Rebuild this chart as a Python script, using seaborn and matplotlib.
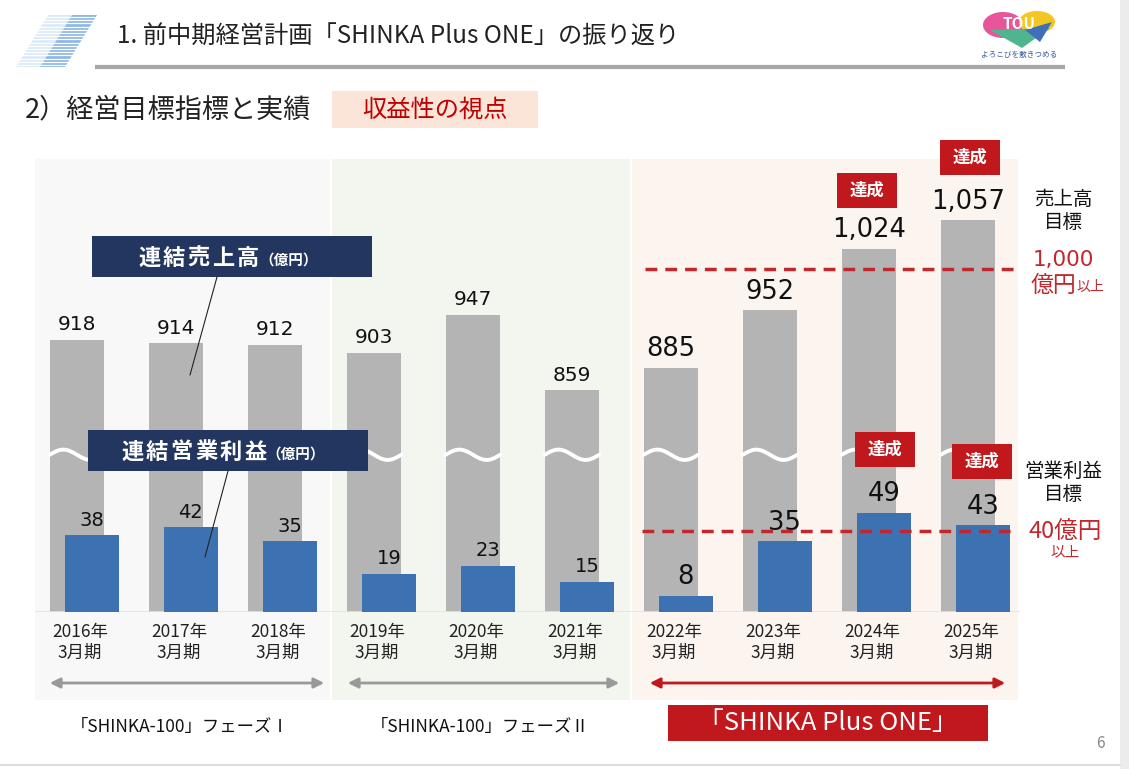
import numpy as np
import pandas as pd
import matplotlib
matplotlib.use("Agg")
import matplotlib.pyplot as plt
from matplotlib.patches import Rectangle, Polygon, Ellipse
import seaborn as sns

sns.set_theme(style="white")
plt.rcParams["font.family"] = ["Noto Sans CJK JP", "DejaVu Sans"]
NUM_FONT = ["DejaVu Sans", "Noto Sans CJK JP"]

# data
periods = ["2016年\n3月期", "2017年\n3月期", "2018年\n3月期", "2019年\n3月期", "2020年\n3月期",
           "2021年\n3月期", "2022年\n3月期", "2023年\n3月期", "2024年\n3月期", "2025年\n3月期"]
sales = [918, 914, 912, 903, 947, 859, 885, 952, 1024, 1057]
profit = [38, 42, 35, 19, 23, 15, 8, 35, 49, 43]
sales_target = 1000
profit_target = 40
phases = ["「SHINKA-100」フェーズⅠ", "「SHINKA-100」フェーズⅡ", "「SHINKA Plus ONE」"]

df = pd.DataFrame({"period": periods, "sales": sales, "profit": profit})
df["pos"] = np.arange(len(df))

GRAY = "#b4b4b4"
BLUE = "#3c72b1"
RED = "#c0282d"
NAVY = "#22365f"

W, H = 1129, 769
fig = plt.figure(figsize=(W / 100, H / 100), dpi=100)


def spaced_text(ax, x0, y, s, pitch, **kw):
    # draw characters one by one with a fixed pitch (letter spacing)
    for k, ch in enumerate(s):
        ax.text(x0 + pitch * (k + 0.5), y, ch, ha="center", va="center", **kw)


# pixel-coordinate background layer
bg = fig.add_axes([0, 0, 1, 1])
bg.set_xlim(0, W)
bg.set_ylim(H, 0)
bg.axis("off")

# phase panels
bg.add_patch(Rectangle((35, 159), 295, 541, color="#f8f8f8", lw=0))
bg.add_patch(Rectangle((332, 159), 298, 541, color="#f3f6ef", lw=0))
bg.add_patch(Rectangle((632, 159), 386, 541, color="#fbf4ef", lw=0))

# header decoration
bg.add_patch(Polygon([(48, 15), (72, 15), (40, 67), (16, 67)], color="#dcebf8", lw=0))
bg.add_patch(Polygon([(72, 15), (97, 15), (65, 67), (40, 67)], color="#8fb9e3", lw=0))
for yy in np.arange(17, 67, 3.2):
    bg.plot([0, 110], [yy, yy], color="white", lw=0.9)
bg.plot([95, 1065], [67, 67], color="#a6a6a6", lw=3, solid_capstyle="butt")
bg.text(117, 37, "1. 前中期経営計画「SHINKA Plus ONE」の振り返り", fontsize=17.5,
        va="center", ha="left", color="#222222")

# logo
bg.add_patch(Ellipse((1003, 25), 40, 26, color="#e8559a", lw=0))
bg.add_patch(Ellipse((1037, 22), 36, 22, color="#f3c623", lw=0))
bg.add_patch(Polygon([(990, 30), (1050, 28), (1022, 48)], color="#4fb58e", lw=0))
bg.add_patch(Polygon([(1025, 30), (1052, 22), (1040, 42)], color="#3f6fb8", lw=0))
bg.text(1019, 24, "TOU", fontsize=11, fontweight="bold", color="white", ha="center", va="center")
bg.text(1019, 55, "よろこびを敷きつめる", fontsize=5.5, color="#3f5f9f", ha="center", va="center")

# sub header
bg.text(25, 110, "2）経営目標指標と実績", fontsize=19.5, va="center", ha="left", color="#222222")
bg.add_patch(Rectangle((332, 91), 206, 37, color="#fbe4d8", lw=0))
bg.text(435, 110, "収益性の視点", fontsize=17.5, va="center", ha="center", color="#c00000")

# right edge / bottom
bg.add_patch(Rectangle((1120, 0), 9, H, color="#ececec", lw=0))
bg.plot([0, 1120], [765, 765], color="#dddddd", lw=1.5)
bg.text(1100, 743, "6", fontsize=11, color="#888888", ha="center", va="center")

# chart axes
left, right, bottom, top = 35, 1020, 612, 130
rect = [left / W, (H - bottom) / H, (right - left) / W, (bottom - top) / H]
ax1 = fig.add_axes(rect)
ax1.patch.set_alpha(0)
ax2 = ax1.twinx()
ax2.patch.set_alpha(0)

sns.barplot(data=df, x="pos", y="sales", native_scale=True, width=0.55, color=GRAY,
            saturation=1, linewidth=0, errorbar=None, ax=ax1)
sns.barplot(data=df.assign(pos=df["pos"] + 0.15), x="pos", y="profit", native_scale=True,
            width=0.55, color=BLUE, saturation=1, linewidth=0, errorbar=None, ax=ax2)

ax1.set_ylim(601, 1162)
ax2.set_ylim(0, 238.6)
ax1.set_xlim(-0.424, 9.525)

# value labels
lab1 = ax1.bar_label(ax1.containers[0], labels=[f"{v:,}" for v in sales], padding=4,
                     color="#111111", family=NUM_FONT)
lab2 = ax2.bar_label(ax2.containers[0], labels=[f"{v}" for v in profit], padding=4,
                     color="#111111", family=NUM_FONT)
for i, t in enumerate(lab1):
    t.set_fontsize(14.5 if i < 6 else 18.5)
for i, t in enumerate(lab2):
    t.set_fontsize(14 if i < 6 else 18.5)

# break marks on the gray bars
t = np.linspace(0, 1, 60)
for p in df["pos"]:
    ax1.plot(p - 0.275 + 0.55 * t, 784 + 6 * np.sin(2 * np.pi * t), color="white", lw=2.8, zorder=5)

# target lines
ax1.plot([5.74, 9.5], [sales_target, sales_target], color=RED, lw=2.5, dashes=(3.4, 2.3), zorder=6)
ax2.plot([5.71, 9.5], [profit_target, profit_target], color=RED, lw=2.5, dashes=(3.4, 2.3), zorder=6)

# axis cosmetics
for ax in (ax1, ax2):
    for s in ax.spines.values():
        s.set_visible(False)
    ax.set_ylabel("")
    ax.set_xlabel("")
    ax.set_yticks([])
ax1.axhline(601, color="#e2e2e2", lw=1.2, zorder=1)
ax1.set_xticks(df["pos"] + 0.03, labels=df["period"])
ax1.tick_params(axis="x", length=0, pad=8, labelsize=12.5, colors="#222222")
for lbl in ax1.get_xticklabels():
    lbl.set_linespacing(1.2)
ax2.tick_params(axis="x", length=0, labelbottom=False)
ax1.set_xlim(-0.424, 9.525)

# foreground layer (pixel coords)
fg = fig.add_axes([0, 0, 1, 1])
fg.set_xlim(0, W)
fg.set_ylim(H, 0)
fg.axis("off")
fg.patch.set_alpha(0)

# callouts
fg.add_patch(Rectangle((92, 236), 280, 41, color=NAVY, lw=0))
spaced_text(fg, 137, 258, "連結売上高", 24.6, fontsize=16, fontweight="bold", color="white")
fg.text(259, 260, "（億円）", fontsize=10.5, fontweight="bold", color="white", ha="left", va="center")
fg.plot([217, 190], [277, 375], color="#222222", lw=0.8)

fg.add_patch(Rectangle((88, 430), 280, 41, color=NAVY, lw=0))
spaced_text(fg, 120, 452, "連結営業利益", 24.6, fontsize=16, fontweight="bold", color="white")
fg.text(266, 454, "（億円）", fontsize=10.5, fontweight="bold", color="white", ha="left", va="center")
fg.plot([228, 205], [471, 557], color="#222222", lw=0.8)

# 達成 badges
for (x0, y0) in [(837, 173), (940, 140), (855, 432), (952, 444)]:
    fg.add_patch(Rectangle((x0, y0), 60, 35, color="#c0181c", lw=0))
    fg.text(x0 + 30, y0 + 17.5, "達成", fontsize=12.5, fontweight="bold", color="white",
            ha="center", va="center")

# target texts
fg.text(1063, 211, "売上高\n目標", fontsize=14, color="#111111", ha="center", va="center", linespacing=1.1)
fg.text(1063, 260, "1,000", fontsize=15.5, color=RED, ha="center", va="center", family=NUM_FONT)
fg.text(1076, 285, "億円", fontsize=16.5, color=RED, ha="right", va="center")
fg.text(1076, 287, "以上", fontsize=10, color=RED, ha="left", va="center")
fg.text(1063, 483, "営業利益\n目標", fontsize=14, color="#111111", ha="center", va="center", linespacing=1.1)
fg.text(1065, 532, "40億円", fontsize=17, color=RED, ha="center", va="center")
fg.text(1065, 552, "以上", fontsize=10.5, color=RED, ha="center", va="center")

# phase arrows and names
arrow_kw = dict(arrowstyle="<|-|>,head_length=0.5,head_width=0.25", lw=2)
fg.annotate("", xy=(327, 683), xytext=(47, 683), arrowprops=dict(color="#999999", **arrow_kw))
fg.annotate("", xy=(622, 683), xytext=(345, 683), arrowprops=dict(color="#999999", **arrow_kw))
fg.annotate("", xy=(1008, 683), xytext=(647, 683), arrowprops=dict(color="#c0181c", **arrow_kw))

fg.text(180, 727, phases[0], fontsize=12.5, color="#111111", ha="center", va="center")
fg.text(480, 727, phases[1], fontsize=12.5, color="#111111", ha="center", va="center")
fg.add_patch(Rectangle((668, 705), 320, 36, color="#c0181c", lw=0))
fg.text(828, 723, phases[2], fontsize=18.5, color="white", ha="center", va="center")

fig.savefig("out.png", dpi=100)
